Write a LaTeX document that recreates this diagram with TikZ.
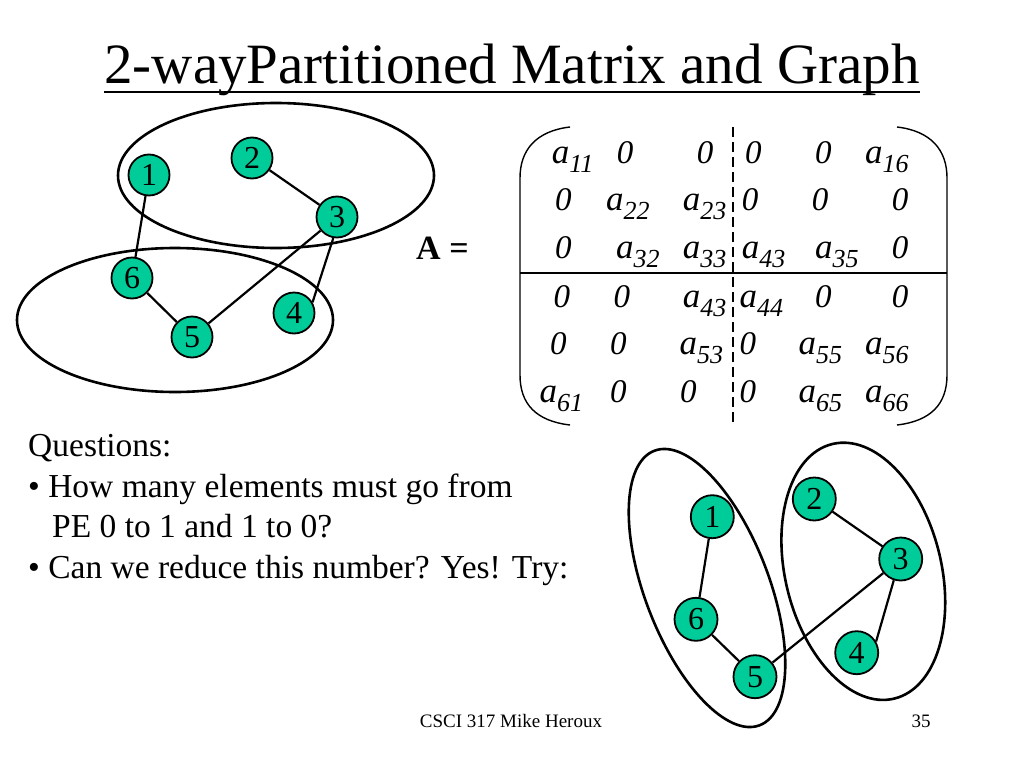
\documentclass[tikz,border=0pt]{standalone}
\usepackage{fontspec}
\setmainfont{Liberation Serif}
\definecolor{nodegreen}{RGB}{0,204,153}
\newcommand\mz{{\fontsize{33}{33}\selectfont\itshape 0}}
\newcommand\ma[1]{{\fontsize{35}{35}\selectfont\itshape a}\raisebox{-9.5pt}{\fontsize{26}{26}\selectfont\itshape #1}}
\begin{document}
\begin{tikzpicture}[x=1pt,y=-1pt,
  vtx/.style={circle,draw,line width=1.8pt,fill=nodegreen,minimum size=41pt,inner sep=0pt,font=\fontsize{32}{32}\selectfont},
  vtxb/.style={vtx,minimum size=43pt},
  edge/.style={line width=2.2pt},
  part/.style={line width=2.6pt},
  txt/.style={anchor=base west,inner sep=0pt,font=\fontsize{33.5}{40}\selectfont},
  ent/.style={anchor=base west,inner sep=0pt}]
\useasboundingbox[fill=white] (0,0) rectangle (1024,768);

% title
\node[anchor=base,inner sep=0pt,font=\fontsize{57}{60}\selectfont] (title) at (512,83) {2-wayPartitioned Matrix and Graph};
\draw[line width=2.8pt] ([yshift=-9pt]title.base west) -- ([yshift=-9pt]title.base east);

% top-left graph
\draw[part] (276,175.5) ellipse [x radius=158, y radius=72.5];
\draw[part] (175,320) ellipse [x radius=158, y radius=72];
\node[vtx] (a1) at (149,175) {1};
\node[vtx] (a2) at (252,158) {2};
\node[vtx] (a3) at (337,217) {3};
\node[vtx] (a6) at (132,278) {6};
\node[vtx] (a5) at (192,337) {5};
\node[vtx] (a4) at (294,313) {4};
\draw[edge] (a1) -- (a6);
\draw[edge] (a2) -- (a3);
\draw[edge] (a3) -- (a5);
\draw[edge] (a6) -- (a5);
\draw[edge] (a3.260) -- (a4.30);

% A =
\node[anchor=base west,inner sep=0pt,font=\fontsize{34}{34}\selectfont\bfseries] (Alabel) at (416,259.3) {A =};

% matrix brackets and partition lines
\draw[line width=1.4pt] (570,127) .. controls (536,131) and (520,150) .. (520,178) -- (520,375) .. controls (520,404) and (536,421) .. (570,425);
\draw[line width=1.4pt] (897,127) .. controls (931,131) and (947,150) .. (947,178) -- (947,375) .. controls (947,404) and (931,421) .. (897,425);
\draw[line width=2.8pt] (520,273) -- (947,273);
\draw[line width=2.8pt,dash pattern=on 10pt off 5pt] (733,127) -- (733,423);

% matrix entries
\foreach \x/\y/\t [count=\i] in {
  551.7/163/\ma{11}, 616.7/163/\mz, 696.7/163/\mz, 745/163/\mz, 815/163/\mz, 865/163/\ma{16},
  555/210/\mz, 606/210/\ma{22}, 682.7/210/\ma{23}, 741.7/210/\mz, 811.7/210/\mz, 891.7/210/\mz,
  555/258/\mz, 616/258/\ma{32}, 682.7/258/\ma{33}, 741.7/258/\ma{43}, 815/258/\ma{35}, 891.7/258/\mz,
  553.3/307/\mz, 613.3/307/\mz, 682.7/307/\ma{43}, 739.3/307/\ma{44}, 815/307/\mz, 891.7/307/\mz,
  550/354/\mz, 610/354/\mz, 679.3/354/\ma{53}, 739.3/354/\mz, 798.3/354/\ma{55}, 865/354/\ma{56},
  539.3/402/\ma{61}, 610/402/\mz, 680/402/\mz, 739.3/402/\mz, 798.3/402/\ma{65}, 865/402/\ma{66}}
  \node[ent] (m\i) at (\x,\y) {\t};

% questions
\node[txt] (q1) at (28,456) {Questions:};
\node[txt] (q2) at (28,497) {\textbullet\ How many elements must go from};
\node[txt] (q3) at (52,537) {PE 0 to 1 and 1 to 0?};
\node[txt] (q4) at (28,578) {\textbullet\ Can we reduce this number? Yes! Try:};

% bottom-right graph
\begin{scope}[shift={(707,588)},rotate=21]
  \draw[part] (0,0) ellipse [x radius=62, y radius=147];
\end{scope}
\begin{scope}[shift={(863.3,571.3)},rotate=13.7]
  \draw[part] (0,0) ellipse [x radius=78, y radius=131];
\end{scope}
\node[vtxb] (b1) at (712.3,516.7) {1};
\node[vtxb] (b2) at (814.3,499) {2};
\node[vtxb] (b3) at (900.7,559) {3};
\node[vtxb] (b6) at (696,619.3) {6};
\node[vtxb] (b5) at (755,676.7) {5};
\node[vtxb] (b4) at (856.7,652.7) {4};
\draw[edge] (b1) -- (b6);
\draw[edge] (b6) -- (b5);
\draw[edge] (b5) -- (b3);
\draw[edge] (b2) -- (b3);
\draw[edge] (b3.252) -- (b4.30);

% footer
\node[anchor=base,inner sep=0pt,font=\fontsize{19}{19}\selectfont] (foot) at (511,727) {CSCI 317 Mike Heroux};
\node[anchor=base,inner sep=0pt,font=\fontsize{19}{19}\selectfont] (page) at (921,727) {35};
\end{tikzpicture}
\end{document}
